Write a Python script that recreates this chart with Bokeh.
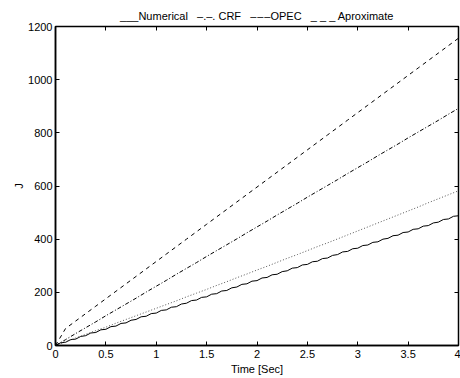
from bokeh.plotting import figure
from bokeh.models import LinearAxis, FixedTicker, Range1d, CustomLabelingPolicy
from bokeh.embed import file_html
from bokeh.resources import INLINE

# ---- data ----
t_num = [i * 0.05 for i in range(81)]
numerical = [0, 10, 12, 22, 24, 34, 37, 47, 49, 59, 61, 71, 73, 83, 85, 95, 98, 108, 110, 120,
             122, 132, 134, 144, 146, 156, 159, 169, 171, 181, 183, 193, 195, 205, 207, 217, 220,
             230, 232, 242, 244, 254, 256, 266, 268, 278, 281, 291, 293, 303, 305, 315, 317, 327,
             329, 339, 342, 352, 354, 364, 366, 376, 378, 388, 390, 400, 403, 413, 415, 425, 427,
             437, 439, 449, 451, 461, 464, 474, 476, 486, 488]

t = [i * 0.1 for i in range(41)]
approx = [0, 14, 28, 42, 56, 69, 84, 98, 112, 126, 140, 154, 168, 183, 197, 211, 226, 240, 255,
          269, 284, 298, 313, 328, 342, 357, 372, 386, 401, 416, 431, 446, 461, 476, 491, 506,
          521, 537, 552, 567, 582]
crf = [0, 22, 45, 67, 89, 112, 134, 156, 178, 201, 223, 245, 268, 290, 312, 335, 357, 379, 401,
       424, 446, 468, 491, 513, 535, 558, 580, 602, 624, 647, 669, 691, 714, 736, 758, 781, 803,
       825, 847, 870, 892]
opec = [0, 64, 92, 120, 148, 176, 204, 232, 260, 288, 316, 344, 372, 400, 428, 456, 484, 512,
        540, 568, 596, 624, 652, 680, 708, 736, 764, 792, 820, 848, 876, 904, 932, 960, 988,
        1016, 1044, 1072, 1100, 1128, 1156]

x_ticks = [0, 0.5, 1, 1.5, 2, 2.5, 3, 3.5, 4]
x_tick_labels = ["0", "0.5", "1", "1.5", "2", "2.5", "3", "3.5", "4"]
y_ticks = [0, 200, 400, 600, 800, 1000, 1200]
y_tick_labels = ["0", "200", "400", "600", "800", "1000", "1200"]

SP = "\u00a0\u00a0\u00a0"
title_text = ("___Numerical" + SP + "\u2013.\u2013. CRF" + SP
              + "\u2013\u200a\u2013\u200a\u2013OPEC" + SP + "_ _ _ Aproximate")
x_label = "Time [Sec]"
y_label = "J"

FONT = "Liberation Sans"

p = figure(width=460, height=378, output_backend="svg", toolbar_location=None,
           x_range=Range1d(0, 4), y_range=Range1d(0, 1200),
           min_border_left=55, min_border_right=2, min_border_top=26, min_border_bottom=33)

p.title.text = title_text
p.title.align = "center"
p.title.text_font = FONT
p.title.text_font_size = "11px"
p.title.text_font_style = "normal"
p.title.text_color = "black"
p.title.offset = 0
p.title.standoff = 9

p.grid.visible = False
p.outline_line_color = "black"
p.outline_line_width = 1.5
p.background_fill_color = "white"
p.border_fill_color = "white"

for ax in (p.xaxis[0], p.yaxis[0]):
    ax.major_tick_in = 4
    ax.major_tick_out = 0
    ax.minor_tick_line_color = None
    ax.axis_line_color = "black"
    ax.axis_line_width = 1.5
    ax.major_label_text_font = FONT
    ax.major_label_text_font_size = "11px"
    ax.major_label_text_color = "black"
    ax.axis_label_text_font = FONT
    ax.axis_label_text_font_size = "11px"
    ax.axis_label_text_font_style = "normal"
    ax.axis_label_text_color = "black"

p.xaxis[0].ticker = FixedTicker(ticks=x_ticks)
p.xaxis[0].major_label_overrides = dict(zip(x_ticks, x_tick_labels))
p.xaxis[0].major_label_standoff = 4
p.xaxis[0].axis_label = x_label
p.xaxis[0].axis_label_standoff = 2

p.yaxis[0].ticker = FixedTicker(ticks=y_ticks)
p.yaxis[0].major_label_overrides = dict(zip(y_ticks, y_tick_labels))
p.yaxis[0].major_label_standoff = 3
p.yaxis[0].axis_label = y_label
p.yaxis[0].axis_label_standoff = 0

hide_labels = CustomLabelingPolicy(code="""
for (const i of indices) indices.unset(i)
return indices
""")
for loc, ticks, where in (("above", x_ticks, 1200), ("right", y_ticks, 4)):
    ax = LinearAxis(ticker=FixedTicker(ticks=ticks), fixed_location=where)
    ax.major_tick_in = 4
    ax.major_tick_out = 0
    ax.minor_tick_line_color = None
    ax.axis_line_color = None
    ax.major_label_policy = hide_labels
    ax.major_label_standoff = 0
    p.add_layout(ax, loc)

p.line(t_num, numerical, line_color="black", line_width=1)
p.line(t, approx, line_color="#555555", line_width=1, line_dash="1 2")
p.line(t, crf, line_color="black", line_width=1, line_dash="4 2 1 2")
p.line(t, opec, line_color="black", line_width=1, line_dash="4 4")

open("out.html", "w").write(file_html(p, INLINE))
